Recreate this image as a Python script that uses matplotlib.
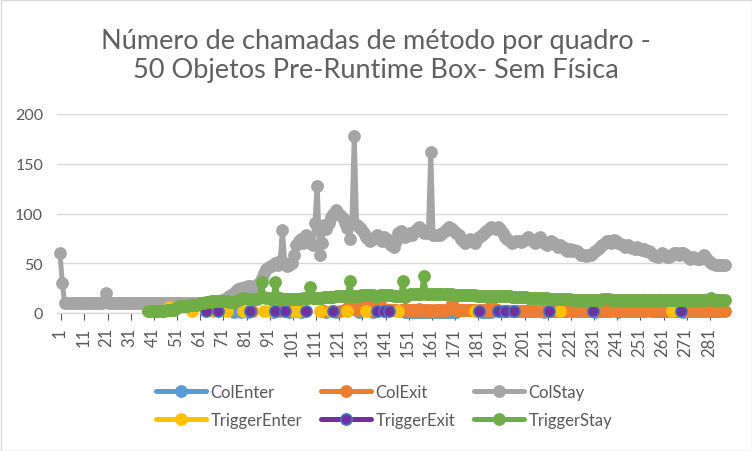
import numpy as np
import matplotlib
matplotlib.use("Agg")
from matplotlib import pyplot as plt
from matplotlib.patches import Rectangle

N = None
n_frames = 288
frames = np.arange(1, n_frames + 1)

# ColStay, frames 1..288
col_stay = [
    60, 30, 10, 10, 10, 10, 10, 10, 10, 10,
    10, 10, 10, 10, 10, 10, 10, 10, 10, 12,
    20, 10, 10, 10, 10, 10, 10, 10, 10, 10,
    10, 10, 10, 10, 10, 10, 10, 10, 10, 10,
    10, 10, 10, 10, 10, 10, 10, 10, 10, 10,
    10, 10, 10, 10, 10, 10, 10, 10, 10, 10,
    10, 10, 10, 10, 10, 10, 10, 10, 11, 12,
    13, 14, 15, 17, 18, 20, 22, 24, 25, 25,
    26, 27, 27, 26, 27, 28, 30, 35, 40, 44,
    46, 47, 48, 50, 48, 52, 83, 50, 47, 48,
    50, 58, 68, 72, 74, 70, 78, 76, 70, 68,
    90, 128, 58, 70, 88, 84, 90, 96, 100, 104,
    100, 98, 95, 90, 85, 74, 92, 178, 88, 86,
    84, 80, 76, 74, 72, 74, 76, 78, 74, 72,
    76, 74, 70, 68, 66, 72, 80, 82, 78, 76,
    78, 80, 78, 82, 84, 86, 84, 80, 82, 80,
    162, 78, 78, 78, 78, 80, 82, 84, 86, 84,
    82, 80, 78, 74, 72, 70, 72, 74, 72, 70,
    74, 76, 78, 80, 82, 84, 86, 85, 84, 86,
    84, 80, 76, 74, 72, 70, 71, 72, 72, 71,
    72, 74, 76, 74, 72, 70, 74, 76, 72, 70,
    68, 70, 72, 70, 68, 66, 68, 66, 64, 62,
    64, 62, 63, 62, 60, 58, 58, 57, 58, 58,
    60, 62, 64, 66, 68, 70, 72, 72, 70, 73,
    72, 70, 69, 68, 66, 68, 66, 65, 64, 66,
    64, 63, 64, 62, 62, 60, 58, 57, 56, 58,
    60, 58, 56, 56, 58, 60, 60, 58, 60, 60,
    58, 56, 54, 56, 55, 54, 54, 56, 58, 55,
    52, 50, 49, 48, 48, 48, 48, 48,
]

# TriggerStay, frames 39..288
trigger_stay_start = 39
trigger_stay = [
    2, 2,
    2, 2, 2, 2, 2, 2, 3, 3, 3, 3,
    5, 6, 7, 7, 7, 7, 8, 8, 8, 8,
    9, 10, 10, 11, 11, 12, 12, 12, 12, 12,
    12, 12, 12, 11, 11, 11, 12, 13, 14, 15,
    15, 14, 14, 14, 14, 14, 15, 31, 16, 15,
    15, 14, 15, 31, 15, 15, 14, 14, 14, 14,
    14, 14, 14, 14, 14, 15, 15, 15, 26, 15,
    15, 15, 15, 15, 16, 16, 16, 16, 16, 17,
    17, 17, 17, 17, 17, 32, 17, 17, 17, 17,
    18, 18, 18, 18, 18, 18, 17, 17, 18, 18,
    18, 18, 18, 18, 17, 17, 17, 17, 32, 16,
    18, 19, 19, 19, 19, 19, 19, 37, 19, 19,
    19, 19, 19, 19, 19, 19, 19, 19, 19, 19,
    18, 18, 18, 18, 18, 18, 18, 18, 18, 18,
    17, 17, 17, 17, 17, 17, 17, 17, 17, 17,
    17, 17, 17, 17, 17, 16, 16, 16, 16, 16,
    16, 16, 15, 15, 15, 15, 15, 15, 15, 15,
    15, 14, 14, 14, 14, 14, 14, 14, 14, 14,
    14, 13, 13, 13, 13, 13, 13, 13, 13, 13,
    13, 13, 13, 13, 14, 14, 14, 14, 13, 13,
    13, 13, 13, 13, 13, 13, 13, 13, 13, 13,
    13, 13, 13, 13, 13, 13, 13, 13, 13, 13,
    13, 13, 13, 13, 13, 13, 13, 13, 13, 13,
    13, 13, 13, 13, 13, 13, 13, 13, 13, 13,
    14, 15, 13, 13, 13, 13, 13, 13,
]

# ColExit: scattered early frames, then a run from frame 129 on
col_exit_early_frames = [84, 92, 93, 95, 96, 99, 100, 101, 103, 114, 115, 122, 125, 126, 127]
col_exit_early_values = [2, 2, 2, 3, 2, 2, 2, 3, 2, 2, 2, 2, 5, 6, 4]
col_exit_start = 129
col_exit_run = [
    3, 7, 4, 3, 5, 6, 3, 3, 4, 10,
    8, 5, 4, 3, 3, 3, 3, 3, 2, 3,
    3, 4, 3, 3, 3, 3, 3, 4, 3, 3,
    3, 3, 3, 2, 3, 3, 3, 3, 3, 3,
    4, 10, 4, 3, 3, 3, 3, 3, 3, 3,
    3, 3, 2, 3, 3, 3, 3, 3, 8, 3,
    3, 3, 2, 2, 2, 2, 2, 2, 2, 2,
    2, 2, 2, 2, 2, 2, 2, 2, 2, 2,
    2, 2, 2, 2, 2, 2, 2, 2, 2, 2,
    2, 2, N, 2, 2, 2, 2, 2, 2, 2,
    2, 2, 2, 2, 2, 2, 2, 2, 2, 2,
    2, N, 2, 2, 2, 2, 2, 2, 2, 2,
    2, 2, 2, 2, 2, 2, N, 2, 2, 2,
    2, 2, 2, 2, 2, 2, 2, 2, 2, 2,
    2, 2, 2, 2, 2, 2, 2, 2, 2, 2,
    2, 2, 2, 2, 2, 2, 2, 2, 2, 2,
]

col_enter_frames = [76, 79, 82, 93, 100, 105, 116, 120, 130, 136,
                    150, 151, 152, 153, 154, 155, 156, 157, 158, 159, 160,
                    161, 162, 163, 164, 165, 166, 167, 168, 169, 170, 171, 172,
                    183, 184, 185, 186, 187, 210, 232, 242, 270]
col_enter_values = [1, 1, 1, 1, 1, 1, 1, 1, 1, 1,
                    1, 1, 1, 1, 1, 1, 1, 1, 1, 1, 1,
                    1, 1, 1, 1, 1, 1, 1, 1, 1, 1, 1, 1,
                    1, 1, 1, 1, 1, 1, 1, 1, 1]

trigger_enter_frames = [39, 40, 48, 58, 67, 73, 80, 89, 92, 102, 104, 113, 118, 125, 133, 147, 180, 217, 265]
trigger_enter_values = [2, 2, 6, 2, 2, 2, 2, 2, 2, 2, 2, 2, 2, 2, 2, 2, 2, 2, 2]

trigger_exit_frames = [64, 69, 83, 94, 98, 107, 119, 138, 141, 143, 182, 190, 193, 197, 212, 231, 269]
trigger_exit_values = [2, 2, 2, 2, 2, 2, 2, 2, 2, 2, 2, 2, 2, 2, 2, 2, 2]


def full_series(idx, vals):
    out = np.full(n_frames, np.nan)
    for f, v in zip(idx, vals):
        if v is not None:
            out[f - 1] = v
    return out


col_enter = full_series(col_enter_frames, col_enter_values)
col_exit = full_series(col_exit_early_frames + list(range(col_exit_start, col_exit_start + len(col_exit_run))),
                       col_exit_early_values + col_exit_run)
col_stay_s = full_series(frames, col_stay)
trigger_enter = full_series(trigger_enter_frames, trigger_enter_values)
trigger_exit = full_series(trigger_exit_frames, trigger_exit_values)
trigger_stay_s = full_series(range(trigger_stay_start, trigger_stay_start + len(trigger_stay)), trigger_stay)

series = [
    ("ColEnter", col_enter, "#5B9BD5", "#5B9BD5"),
    ("ColExit", col_exit, "#ED7D31", "#ED7D31"),
    ("ColStay", col_stay_s, "#A5A5A5", "#A5A5A5"),
    ("TriggerEnter", trigger_enter, "#FFC000", "#FFC000"),
    ("TriggerExit", trigger_exit, "#7030A0", "#4472C4"),
    ("TriggerStay", trigger_stay_s, "#70AD47", "#70AD47"),
]

plt.rcParams['font.family'] = ['Lato', 'DejaVu Sans']
text_color = "#595959"

fig = plt.figure(figsize=(7.52, 4.52), dpi=100)
ax = fig.add_axes([57 / 752, 1 - 314 / 452, (728 - 57) / 752, (314 - 115) / 452])

handles = []
for name, vals, color, edge in series:
    h, = ax.plot(frames, vals, color=color, linewidth=3.6, marker="o", markersize=8,
                 markerfacecolor=color, markeredgecolor=edge, markeredgewidth=1.2,
                 solid_capstyle="round", solid_joinstyle="round", clip_on=False,
                 label=name, zorder=3)
    handles.append(h)

ax.set_xlim(-0.3, 289.3)
ax.set_ylim(0, 200)
ax.set_yticks([0, 50, 100, 150, 200])
ax.grid(axis="y", color="#D9D9D9", linewidth=1.0)
ax.set_axisbelow(True)
for s in ["top", "right", "left"]:
    ax.spines[s].set_visible(False)
ax.spines["bottom"].set_color("#D9D9D9")
ax.spines["bottom"].set_linewidth(1.0)
ax.spines["bottom"].set_zorder(1)

xt = list(range(1, n_frames + 1, 10))
ax.set_xticks(xt)
ax.set_xticklabels([str(t) for t in xt], rotation=90, fontsize=12, color=text_color)
ax.tick_params(axis="x", length=0, pad=10)
ax.set_xticks([t + 0.5 for t in xt], minor=True)
ax.tick_params(axis="x", which="minor", length=5, color="#595959", width=0.8)
ax.tick_params(axis="y", length=0, labelsize=11.5, labelcolor=text_color, pad=10)

fig.text(0.5, 1 - 56 / 452, "Número de chamadas de método por quadro -\n50 Objetos Pre-Runtime Box- Sem Física",
         ha="center", va="center", fontsize=19.5, color="#606060", linespacing=1.2)

order = [0, 3, 1, 4, 2, 5]
leg = fig.legend([handles[i] for i in order], [series[i][0] for i in order], ncol=3,
                 loc="center", bbox_to_anchor=(0.5 + 8 / 752, 1 - 407 / 452), frameon=False,
                 fontsize=12, handlelength=3.0, handletextpad=0.3, columnspacing=1.1,
                 labelspacing=0.75, labelcolor=text_color)

fig.patches.append(Rectangle((0.5 / 752, 0.5 / 452), 1 - 1 / 752, 1 - 1 / 452, transform=fig.transFigure,
                             fill=False, edgecolor="#D9D9D9", linewidth=1.0))

fig.savefig("out.png", dpi=100)
